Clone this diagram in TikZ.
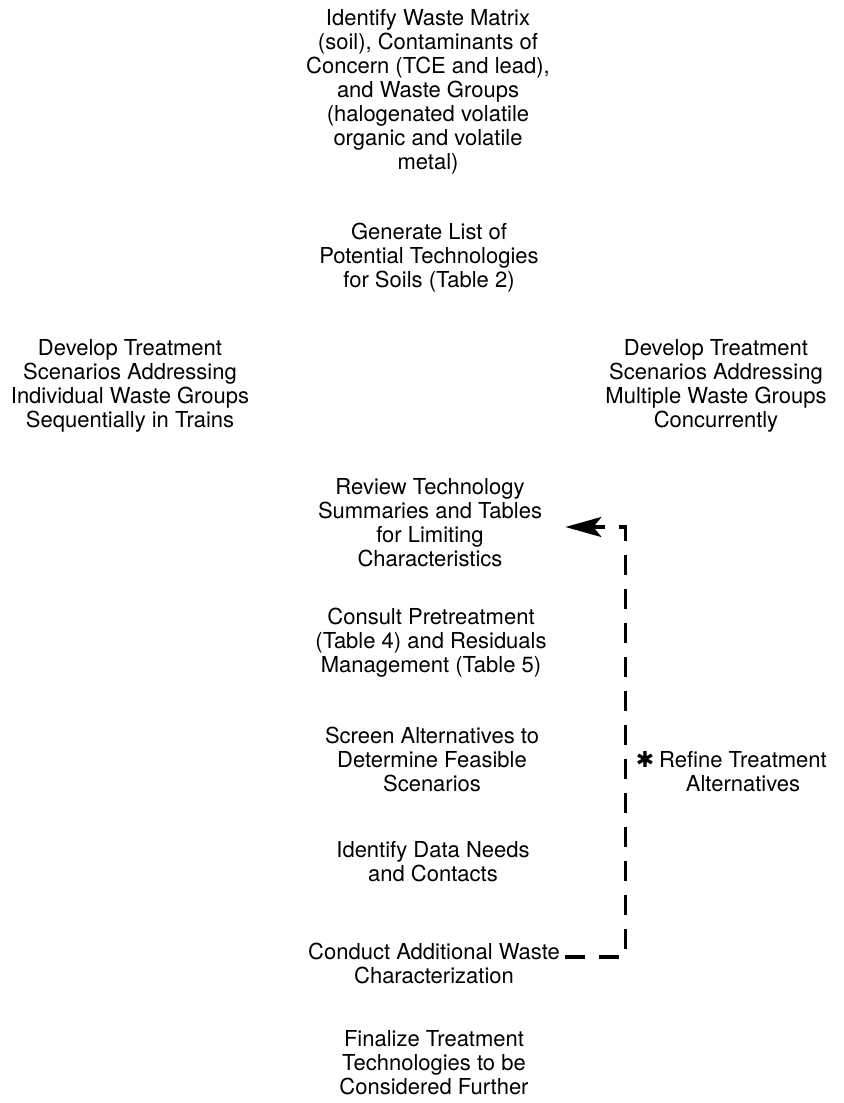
\documentclass[tikz,border=0pt]{standalone}
\usepackage{fontspec}
\setmainfont{TeX Gyre Heros}
\newfontfamily\starfont{DejaVu Sans}
\usetikzlibrary{arrows.meta}

\begin{document}
\begin{tikzpicture}[x=0.5pt, y=-0.5pt,
    stage/.style={align=center, inner sep=0pt, font=\fontsize{11pt}{12pt}\selectfont}]
    \useasboundingbox (0,0) rectangle (844,1103);

    % Steps of the screening, top to bottom
    \node[stage] (waste) at (428,92) {Identify Waste Matrix\\(soil), Contaminants of\\Concern (TCE and lead),\\and Waste Groups\\(halogenated volatile\\organic and volatile\\metal)};
    \node[stage] (techlist) at (429,258) {Generate List of\\Potential Technologies\\for Soils (Table 2)};
    \node[stage] (serial) at (130,386) {Develop Treatment\\Scenarios Addressing\\Individual Waste Groups\\Sequentially in Trains};
    \node[stage] (parallel) at (716,386) {Develop Treatment\\Scenarios Addressing\\Multiple Waste Groups\\Concurrently};
    \node[stage] (review) at (430,523) {Review Technology\\Summaries and Tables\\for Limiting\\Characteristics};
    \node[stage] (consult) at (431,643) {Consult Pretreatment\\(Table 4) and Residuals\\Management (Table 5)};
    \node[stage] (screen) at (432,759) {Screen Alternatives to\\Determine Feasible\\Scenarios};
    \node[stage] (dataneeds) at (433,862) {Identify Data Needs\\and Contacts};
    \node[stage] (characterize) at (434,963) {Conduct Additional Waste\\Characterization};
    \node[stage] (finalize) at (434,1063) {Finalize Treatment\\Technologies to be\\Considered Further};

    % Loop back
    \node[stage] (refine) at (743,772) {\llap{{\starfont\fontsize{11pt}{11pt}\selectfont ✱}\hspace{2.5pt}}Refine Treatment\\Alternatives};
    \draw[line width=1.6pt, dash pattern=on 10pt off 7pt, -{Stealth[length=18pt, width=10pt, inset=4pt]}]
        ([xshift=2.5pt, yshift=3pt]characterize.east) -- ++(60,0) |- ([xshift=11.5pt, yshift=-2pt]review.east);
\end{tikzpicture}
\end{document}
